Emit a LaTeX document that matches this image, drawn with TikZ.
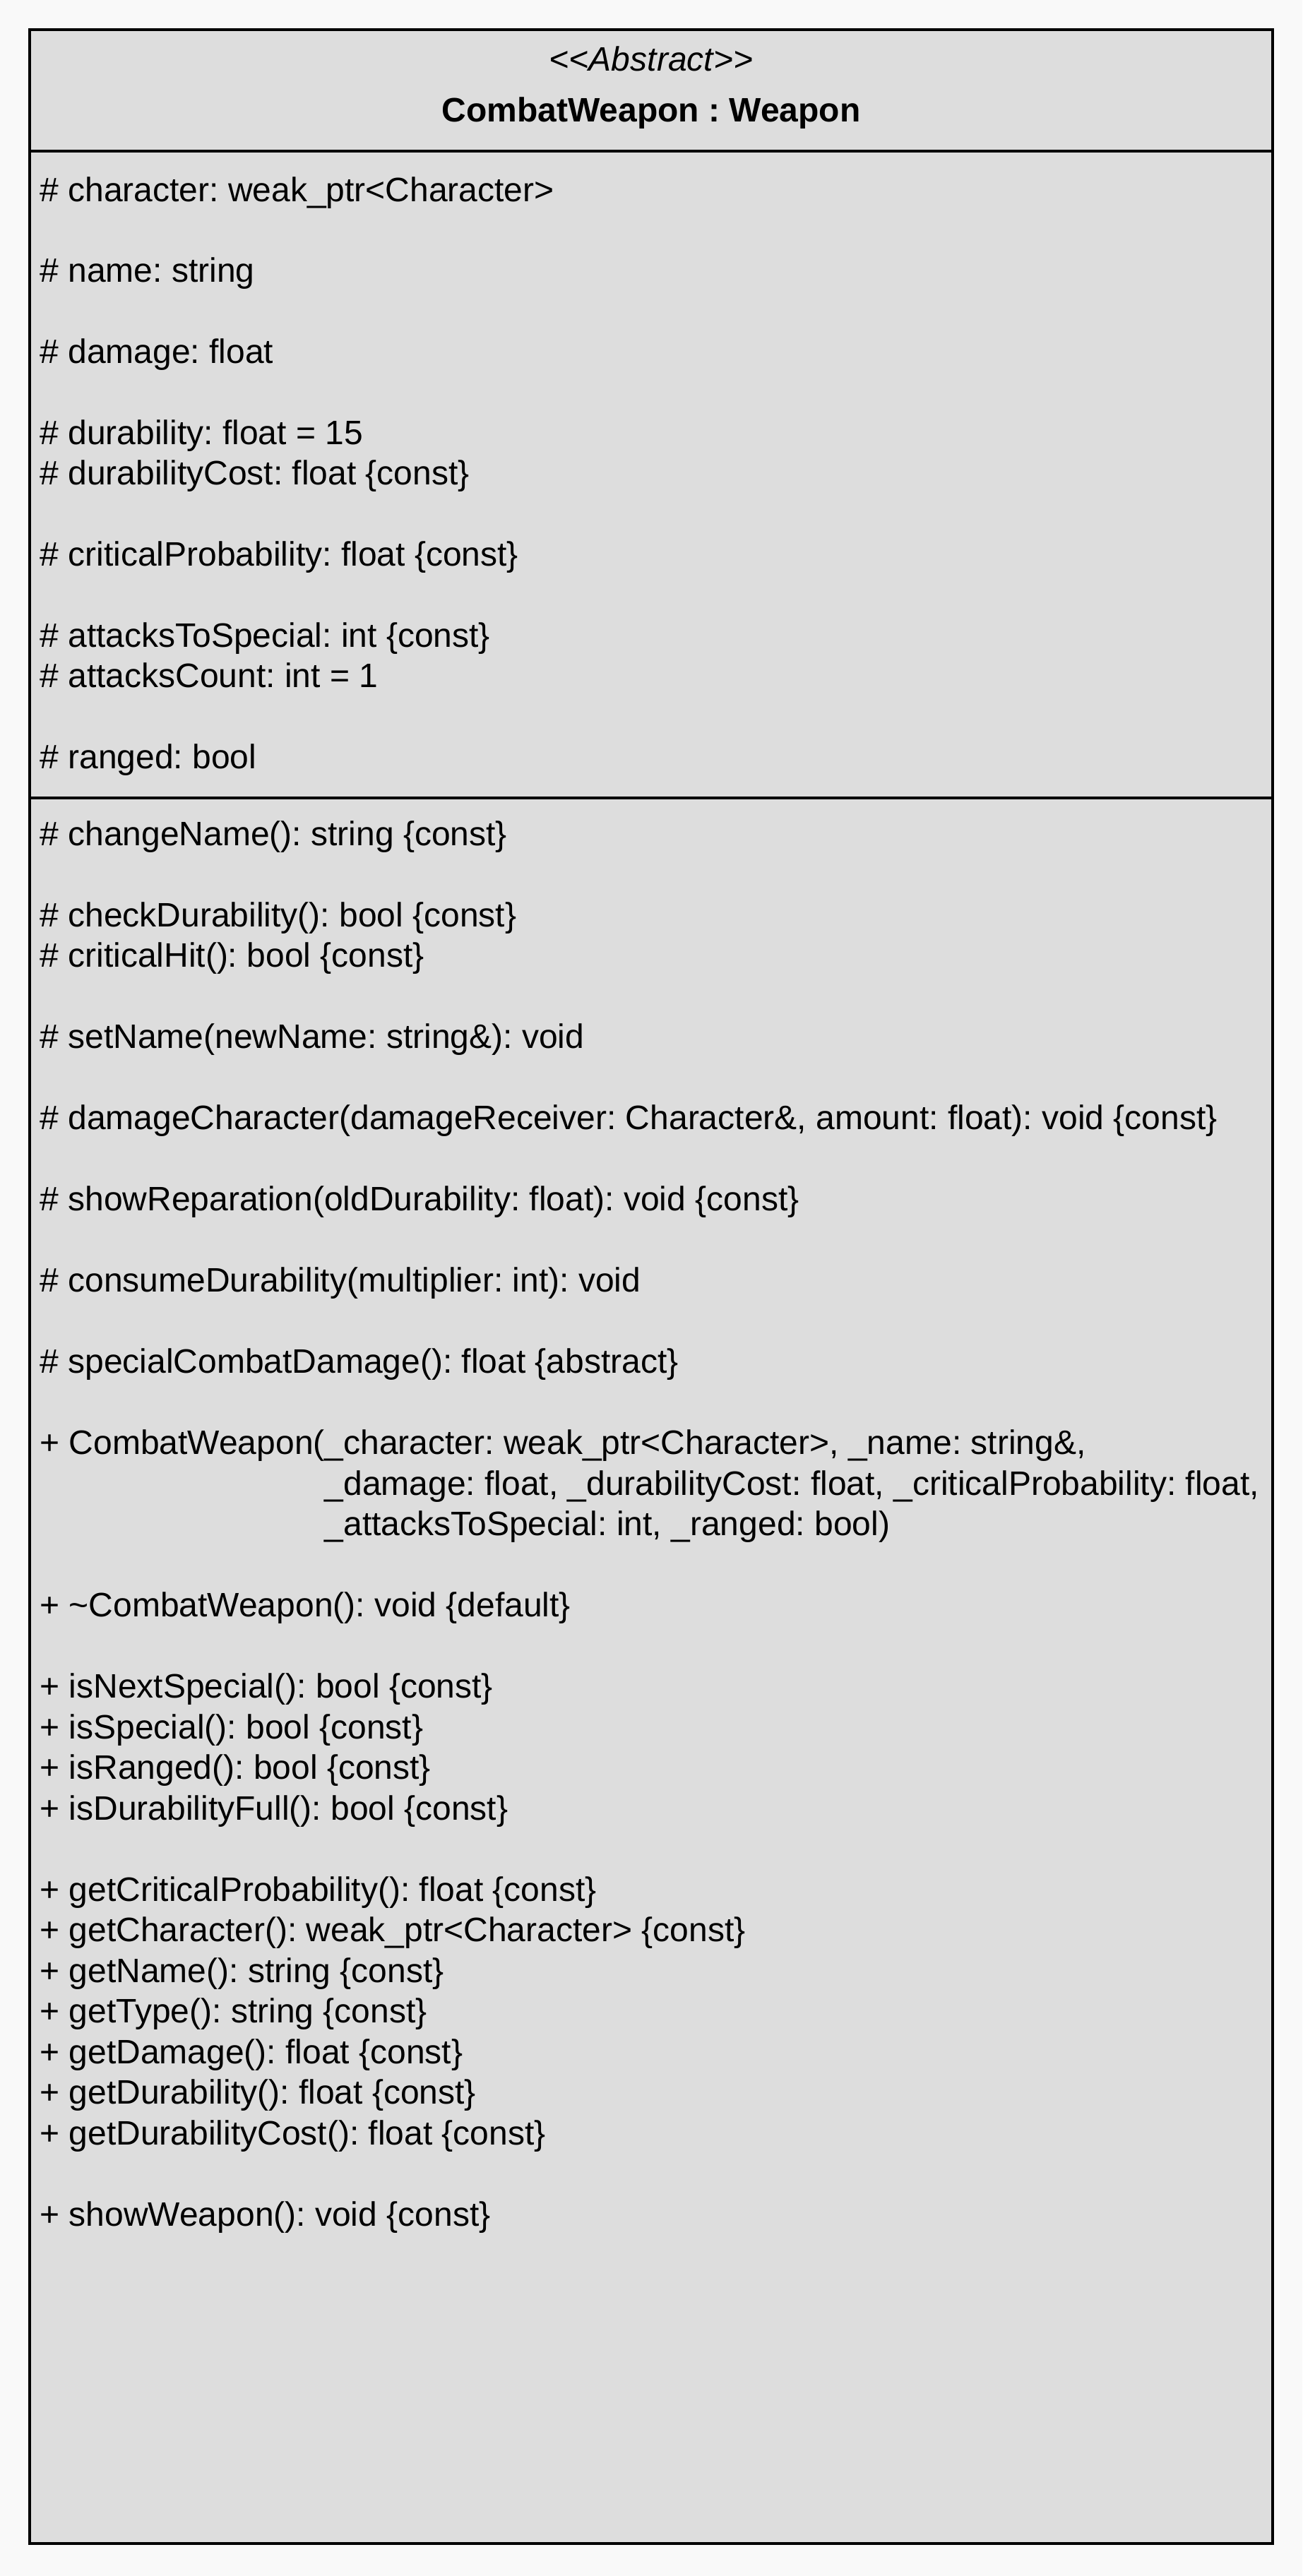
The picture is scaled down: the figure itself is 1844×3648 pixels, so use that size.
\documentclass[tikz,border=0pt]{standalone}
\usepackage{fontspec}
\setmainfont{Liberation Sans}
\usetikzlibrary{positioning}
\definecolor{classfill}{RGB}{221,221,221}
\definecolor{pagefill}{RGB}{249,249,249}
\newcommand{\memberfont}{\fontsize{24}{28.7}\selectfont}
\frenchspacing

\begin{document}
\begin{tikzpicture}[
    x=0.5pt, y=-0.5pt,
    classbox/.style={draw, line width=2pt, fill=classfill, minimum width=880pt, minimum height=1780pt, inner sep=0pt},
    member/.style={anchor=base west, inner sep=0pt, font=\memberfont},
    header/.style={anchor=base, inner sep=0pt, font=\memberfont},
    divider/.style={line width=2pt}
]
    % Page
    \fill[pagefill] (0,0) rectangle (1844,3648);
    \useasboundingbox (0,0) rectangle (1844,3648);

    % Class box
    \node[classbox] (cls) at (922,1822) {};
    \coordinate (headsep) at (0,214);
    \coordinate (attrsep) at (0,1130);
    \draw[divider] (cls.west |- headsep) -- (cls.east |- headsep);
    \draw[divider] (cls.west |- attrsep) -- (cls.east |- attrsep);

    % Header
    \node[header, font=\memberfont\itshape] (stereo) at (922,100) {<{}<Abstract>{}>};
    \node[header, font=\memberfont\bfseries] (title) at (922,172) {CombatWeapon : Weapon};

    % Attributes
    \foreach \i/\txt in {
        0/{\# character: weak\_ptr<Character>},
        2/{\# name: string},
        4/{\# damage: float},
        6/{\# durability: float = 15},
        7/{\# durabilityCost: float \{const\}},
        9/{\# criticalProbability: float \{const\}},
        11/{\# attacksToSpecial: int \{const\}},
        12/{\# attacksCount: int = 1},
        14/{\# ranged: bool}}
        \node[member] (attr\i) at (56,{285+57.4*\i}) {\txt};

    % Methods
    \foreach \i/\txt in {
        0/{\# changeName(): string \{const\}},
        2/{\# checkDurability(): bool \{const\}},
        3/{\# criticalHit(): bool \{const\}},
        5/{\# setName(newName: string\&): void},
        7/{\# damageCharacter(damageReceiver: Character\&, amount: float): void \{const\}},
        9/{\# showReparation(oldDurability: float): void \{const\}},
        11/{\# consumeDurability(multiplier: int): void},
        13/{\# specialCombatDamage(): float \{abstract\}},
        15/{+ CombatWeapon(\_character: weak\_ptr<Character>, \_name: string\&,},
        16/{\phantom{+ CombatWeapon(}\_damage: float, \_durabilityCost: float, \_criticalProbability: float,},
        17/{\phantom{+ CombatWeapon(}\_attacksToSpecial: int, \_ranged: bool)},
        19/{+ \textasciitilde CombatWeapon(): void \{default\}},
        21/{+ isNextSpecial(): bool \{const\}},
        22/{+ isSpecial(): bool \{const\}},
        23/{+ isRanged(): bool \{const\}},
        24/{+ isDurabilityFull(): bool \{const\}},
        26/{+ getCriticalProbability(): float \{const\}},
        27/{+ getCharacter(): weak\_ptr<Character> \{const\}},
        28/{+ getName(): string \{const\}},
        29/{+ getType(): string \{const\}},
        30/{+ getDamage(): float \{const\}},
        31/{+ getDurability(): float \{const\}},
        32/{+ getDurabilityCost(): float \{const\}},
        34/{+ showWeapon(): void \{const\}}}
        \node[member] (meth\i) at (56,{1197+57.5*\i}) {\txt};
\end{tikzpicture}
\end{document}
